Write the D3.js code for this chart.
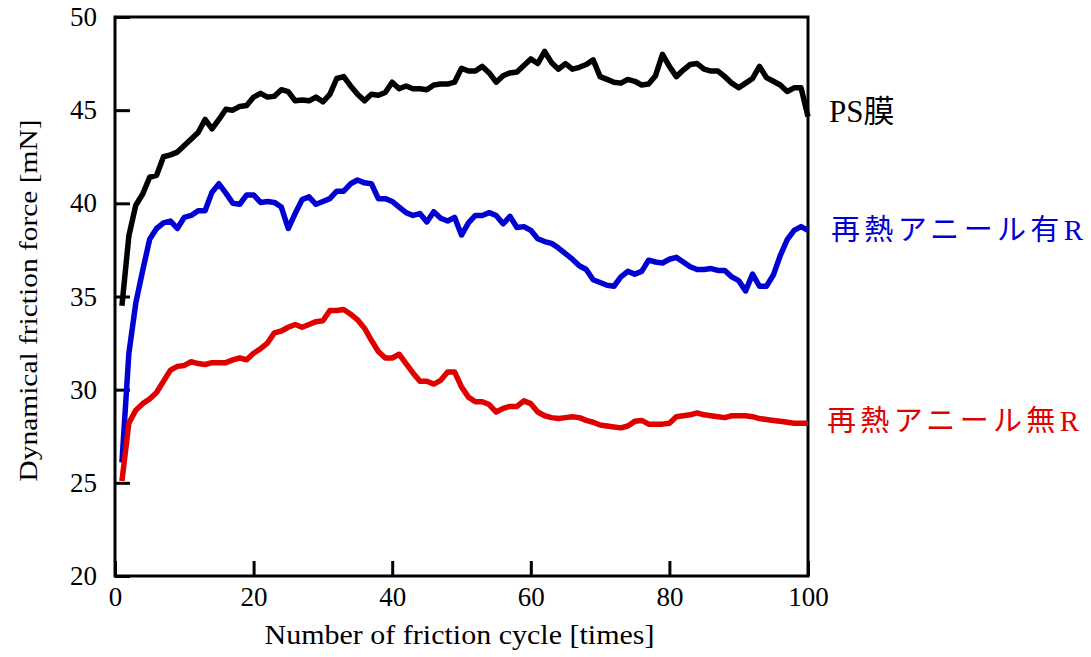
<!DOCTYPE html>
<html>
<head>
<meta charset="utf-8">
<script src="https://cdn.jsdelivr.net/npm/d3@7"></script>
<style>
  body { margin: 0; background: #fff; }
  text { font-family: "Liberation Serif", "Noto Sans CJK JP", serif; }
</style>
</head>
<body>
<div id="chart"></div>
<script>
// values, one point per friction cycle (1..100)
const psFilm = [34.5, 38.25, 39.9, 40.5, 41.4, 41.5, 42.5, 42.6, 42.75, 43.1,
  43.45, 43.8, 44.5, 44.0, 44.5, 45.05, 45.0, 45.2, 45.25, 45.7,
  45.9, 45.7, 45.75, 46.1, 46.0, 45.5, 45.55, 45.5, 45.7, 45.45,
  45.85, 46.7, 46.8, 46.3, 45.85, 45.5, 45.85, 45.8, 45.95, 46.5,
  46.15, 46.3, 46.15, 46.15, 46.1, 46.35, 46.4, 46.4, 46.5, 47.25,
  47.1, 47.1, 47.35, 47.0, 46.5, 46.85, 47.0, 47.05, 47.4, 47.75,
  47.5, 48.15, 47.55, 47.2, 47.5, 47.2, 47.3, 47.45, 47.7, 46.8,
  46.65, 46.5, 46.45, 46.65, 46.55, 46.35, 46.4, 46.85, 48.0, 47.35,
  46.8, 47.15, 47.45, 47.5, 47.2, 47.1, 47.1, 46.8, 46.45, 46.2,
  46.45, 46.7, 47.35, 46.75, 46.55, 46.35, 46.0, 46.2, 46.2, 44.65];

const annealWith = [26.1, 31.95, 34.65, 36.4, 38.07, 38.65, 38.95, 39.05, 38.65, 39.25,
  39.35, 39.6, 39.6, 40.6, 41.05, 40.55, 40.0, 39.95, 40.45, 40.45,
  40.05, 40.1, 40.05, 39.8, 38.65, 39.45, 40.2, 40.35, 39.95, 40.1,
  40.25, 40.65, 40.65, 41.05, 41.25, 41.1, 41.05, 40.25, 40.25, 40.1,
  39.8, 39.5, 39.35, 39.45, 39.0, 39.55, 39.2, 39.05, 39.25, 38.3,
  38.95, 39.35, 39.35, 39.5, 39.35, 38.9, 39.3, 38.7, 38.75, 38.55,
  38.1, 37.95, 37.85, 37.6, 37.3, 37.0, 36.65, 36.45, 35.9, 35.75,
  35.6, 35.55, 36.05, 36.35, 36.2, 36.35, 36.95, 36.85, 36.8, 37.0,
  37.1, 36.85, 36.6, 36.45, 36.45, 36.5, 36.4, 36.4, 36.05, 35.85,
  35.3, 36.2, 35.55, 35.55, 36.15, 37.2, 38.05, 38.55, 38.75, 38.55];

const annealWithout = [25.1, 28.2, 28.9, 29.25, 29.5, 29.85, 30.45, 31.05, 31.25, 31.3,
  31.5, 31.4, 31.35, 31.45, 31.45, 31.45, 31.6, 31.7, 31.6, 31.95,
  32.2, 32.5, 33.05, 33.15, 33.35, 33.5, 33.35, 33.5, 33.65, 33.7,
  34.25, 34.25, 34.3, 34.05, 33.75, 33.3, 32.65, 32.05, 31.7, 31.7,
  31.9, 31.4, 30.9, 30.45, 30.45, 30.3, 30.5, 30.95, 30.95, 30.15,
  29.6, 29.35, 29.35, 29.2, 28.8, 29.0, 29.1, 29.1, 29.4, 29.25,
  28.8, 28.6, 28.5, 28.45, 28.5, 28.55, 28.5, 28.35, 28.25, 28.1,
  28.05, 28.0, 27.95, 28.05, 28.3, 28.35, 28.15, 28.15, 28.15, 28.2,
  28.55, 28.6, 28.65, 28.75, 28.65, 28.6, 28.55, 28.5, 28.6, 28.6,
  28.6, 28.55, 28.45, 28.4, 28.35, 28.3, 28.25, 28.2, 28.2, 28.2];

const seriesNames = ['PS膜', '再熱アニール有R', '再熱アニール無R'];
const seriesColors = ['#000000', '#0000d2', '#e00000'];
const xTicks = [0, 20, 40, 60, 80, 100];
const yTicks = [20, 25, 30, 35, 40, 45, 50];

const width = 1091, height = 657;
const margin = {top: 17, right: 283, bottom: 81, left: 115};
const plotW = width - margin.left - margin.right;
const plotH = height - margin.top - margin.bottom;

const svg = d3.select('#chart').append('svg')
  .attr('width', width)
  .attr('height', height);

const g = svg.append('g')
  .attr('transform', `translate(${margin.left},${margin.top})`);

const x = d3.scaleLinear().domain([0, 100]).range([0, plotW]);
const y = d3.scaleLinear().domain([20, 50]).range([plotH, 0]);

// axes, ticks pointing inward
const xAxis = g.append('g')
  .attr('transform', `translate(0,${plotH})`)
  .call(d3.axisBottom(x).tickValues(xTicks).tickSizeInner(-15).tickSizeOuter(0).tickPadding(11));
const yAxis = g.append('g')
  .call(d3.axisLeft(y).tickValues(yTicks).tickSizeInner(-15).tickSizeOuter(0).tickPadding(18));

[xAxis, yAxis].forEach(a => {
  a.select('.domain').remove();
  a.selectAll('line').attr('stroke', '#000').attr('stroke-width', 3);
  a.selectAll('text')
    .attr('fill', '#000')
    .style('font-size', '27px');
});

// frame
g.append('rect')
  .attr('width', plotW)
  .attr('height', plotH)
  .attr('fill', 'none')
  .attr('stroke', '#000')
  .attr('stroke-width', 3);

const line = d3.line()
  .x((d, i) => x(i + 1))
  .y(d => y(d));

const allSeries = [psFilm, annealWith, annealWithout];
g.selectAll('.series')
  .data(allSeries)
  .join('path')
  .attr('class', 'series')
  .attr('d', line)
  .attr('fill', 'none')
  .attr('stroke', (d, i) => seriesColors[i])
  .attr('stroke-width', 5.5)
  .attr('stroke-linejoin', 'round');

// labels at right of each line
const labelPos = [
  {x: 829, y: 122, len: null, size: 31},
  {x: 831, y: 240, len: 252, size: 29},
  {x: 827, y: 431, len: 252, size: 29}
];
svg.selectAll('.series-label')
  .data(seriesNames)
  .join('text')
  .attr('class', 'series-label')
  .attr('x', (d, i) => labelPos[i].x)
  .attr('y', (d, i) => labelPos[i].y)
  .attr('textLength', (d, i) => labelPos[i].len)
  .attr('lengthAdjust', 'spacing')
  .attr('fill', (d, i) => seriesColors[i])
  .style('font-size', (d, i) => labelPos[i].size + 'px')
  .text(d => d);

// axis titles
svg.append('text')
  .attr('x', margin.left + plotW / 2 - 2)
  .attr('y', 644)
  .attr('text-anchor', 'middle')
  .attr('textLength', 390)
  .attr('lengthAdjust', 'spacingAndGlyphs')
  .style('font-size', '27px')
  .text('Number of friction  cycle [times]');

svg.append('text')
  .attr('transform', `translate(37,${margin.top + plotH / 2 + 4}) rotate(-90)`)
  .attr('text-anchor', 'middle')
  .attr('textLength', 362)
  .attr('lengthAdjust', 'spacingAndGlyphs')
  .style('font-size', '26px')
  .text('Dynamical friction  force [mN]');
</script>
</body>
</html>
